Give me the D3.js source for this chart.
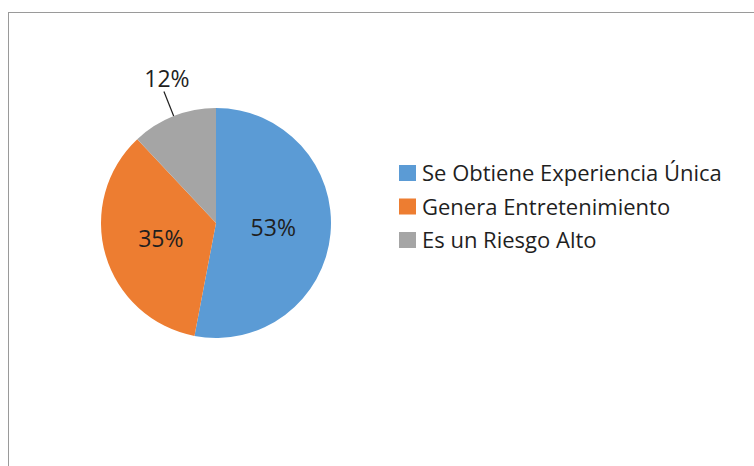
<!DOCTYPE html>
<html>
<head>
<meta charset="utf-8">
<script src="https://cdn.jsdelivr.net/npm/d3@7"></script>
<style>
  body { margin: 0; background: #fff; }
  svg { display: block; }
  text { font-family: "Open Sans", sans-serif; }
</style>
</head>
<body>
<div id="chart"></div>
<script>
const categories = ["Se Obtiene Experiencia Única", "Genera Entretenimiento", "Es un Riesgo Alto"];
const values = [53, 35, 12];
const labels = ["53%", "35%", "12%"];
const colors = ["#5B9BD5", "#ED7D31", "#A5A5A5"];

const width = 754, height = 466;
const cx = 216, cy = 223, radius = 115;

const svg = d3.select("#chart").append("svg")
    .attr("width", width)
    .attr("height", height);

// chart area frame (cropped at right and bottom)
svg.append("rect")
    .attr("x", 8.5)
    .attr("y", 12.5)
    .attr("width", width + 10)
    .attr("height", height + 10)
    .attr("fill", "#fff")
    .attr("stroke", "#9a9a9a")
    .attr("stroke-width", 1);

const pie = d3.pie().sort(null).value(d => d);
const arcs = pie(values);
const arc = d3.arc().innerRadius(0).outerRadius(radius);

const g = svg.append("g")
    .attr("transform", "translate(" + cx + "," + cy + ")");

g.selectAll("path.slice")
    .data(arcs)
    .enter().append("path")
    .attr("class", "slice")
    .attr("d", arc)
    .attr("fill", (d, i) => colors[i]);

// inside labels for the big slices, outside label with a leader for the small one
function midPoint(d, r) {
    const a = (d.startAngle + d.endAngle) / 2;
    return [Math.sin(a) * r, -Math.cos(a) * r];
}

arcs.forEach(function (d, i) {
    if (d.data >= 20) {
        const c = arc.centroid(d);
        g.append("text")
            .attr("x", c[0])
            .attr("y", c[1] + 8)
            .attr("text-anchor", "middle")
            .attr("font-size", 23)
            .attr("fill", "#1f1f1f")
            .text(labels[i]);
    } else {
        const p0 = midPoint(d, radius);
        const p1 = midPoint(d, radius * 1.23);
        g.append("line")
            .attr("x1", p0[0]).attr("y1", p0[1])
            .attr("x2", p1[0]).attr("y2", p1[1])
            .attr("stroke", "#1f1f1f")
            .attr("stroke-width", 1.2);
        g.append("text")
            .attr("x", p1[0] + 3)
            .attr("y", p1[1] - 4)
            .attr("text-anchor", "middle")
            .attr("font-size", 23)
            .attr("fill", "#1f1f1f")
            .text(labels[i]);
    }
});

// legend
const legend = svg.append("g")
    .attr("transform", "translate(399,165)");

const rowY = d3.scalePoint()
    .domain(categories)
    .range([0, 67]);

const item = legend.selectAll("g.item")
    .data(categories)
    .enter().append("g")
    .attr("class", "item")
    .attr("transform", d => "translate(0," + rowY(d) + ")");

item.append("rect")
    .attr("width", 17)
    .attr("height", 16)
    .attr("fill", (d, i) => colors[i]);

item.append("text")
    .attr("x", 23)
    .attr("y", 16)
    .attr("font-size", 22)
    .attr("fill", "#1f1f1f")
    .text(d => d);
</script>
</body>
</html>
